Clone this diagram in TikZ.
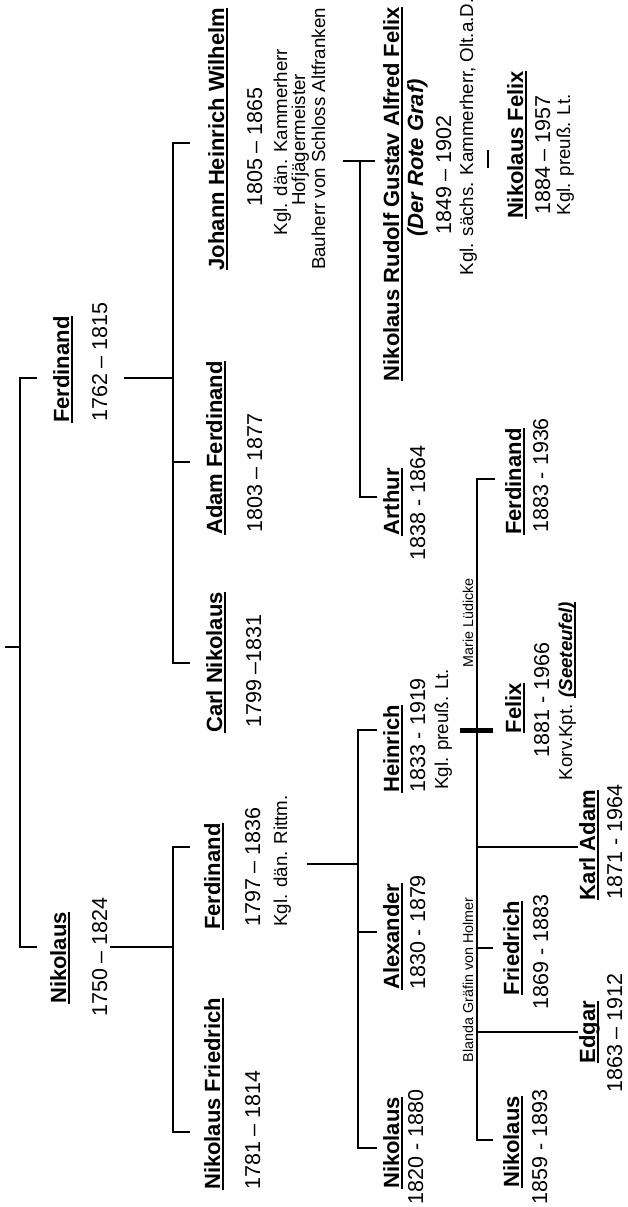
\documentclass[tikz,border=0pt]{standalone}
\usepackage{fontspec}
\setmainfont{Liberation Sans}
\newcommand\namefont{\fontsize{22}{24}\selectfont\bfseries}
\newcommand\datefont{\fontsize{21.5}{24}\selectfont}
\newcommand\notefont{\fontsize{18.7}{21}\selectfont}
\newcommand\smallfont{\fontsize{14.3}{16}\selectfont}
\newcommand\nmul[1]{\setbox0=\hbox{#1}\rlap{\rule[-4pt]{\wd0}{1.6pt}}\box0}
\tikzset{
  nm/.style={rotate=90, inner sep=0pt, font=\namefont, anchor=base},
  dt/.style={rotate=90, inner sep=0pt, font=\datefont, anchor=base},
  nt/.style={rotate=90, inner sep=0pt, font=\notefont, anchor=base},
  sm/.style={rotate=90, inner sep=0pt, font=\smallfont, anchor=base},
  ln/.style={line width=1.2pt},
  bar/.style={line width=5pt},
}
\begin{document}
\begin{tikzpicture}[x=1pt, y=-1pt]
\useasboundingbox (0,0) rectangle (627,1207);
% generation 1
\node[nm, anchor=base west] (f1762) at (69,423) {\nmul{Ferdinand}};
\node[dt, anchor=base west] (f1762d) at (107,422) {1762 – 1815};
\node[nm] (n1750) at (66,958) {\nmul{Nikolaus}};
\node[dt] (n1750d) at (107,957) {1750 – 1824};
% generation 2
\node[nm] (jhw) at (224,139) {\nmul{Johann Heinrich Wilhelm}};
\node[dt] (jhwd) at (262,147) {1805 – 1865};
\node[nt] (jhw1) at (287,142) {Kgl. dän. Kammerherr};
\node[nt] (jhw2) at (305,140) {Hofjägermeister};
\node[nt] (jhw3) at (325,139) {Bauherr von Schloss Altfranken};
\node[nm, anchor=base west] (af) at (222,535) {\nmul{Adam Ferdinand}};
\node[dt, anchor=base west] (afd) at (262,533) {1803 – 1877};
\node[nm, anchor=base west] (cn) at (222,733) {\nmul{Carl Nikolaus}};
\node[dt, anchor=base west] (cnd) at (261,728) {1799 –1831};
\node[nm, anchor=base west] (f1797) at (220,930) {\nmul{Ferdinand}};
\node[dt, anchor=base west] (f1797d) at (260,927) {1797 – 1836};
\node[nt, anchor=base west] (f1797n) at (287,927) {Kgl. dän. Rittm.};
\node[nm, anchor=base west] (nf) at (220,1190) {\nmul{Nikolaus Friedrich}};
\node[dt, anchor=base west] (nfd) at (260,1190) {1781 – 1814};
% generation 3
\node[nm] (nr) at (399,194) {\nmul{Nikolaus Rudolf Gustav Alfred Felix}};
\node[nm, font=\namefont\itshape] (nr1) at (423,158) {(Der Rote Graf)};
\node[dt] (nrd) at (451,175) {1849 – 1902};
\node[nt] (nr2) at (473,137) {Kgl. sächs. Kammerherr, Olt.a.D.};
\node[nm] (ar) at (399,502) {\nmul{Arthur}};
\node[dt] (ard) at (425,503) {1838 - 1864};
\node[nm, anchor=base west] (he) at (399,793) {\nmul{Heinrich}};
\node[dt, anchor=base west] (hed) at (425,793) {1833 - 1919};
\node[nt, anchor=base west] (hen) at (448,790) {Kgl. preuß. Lt.};
\node[nm, anchor=base west] (al) at (399,990) {\nmul{Alexander}};
\node[dt, anchor=base west] (ald) at (425,990) {1830 - 1879};
\node[nm] (n1820) at (399,1143) {\nmul{Nikolaus}};
\node[dt] (n1820d) at (423,1147) {1820 - 1880};
% spouses
\node[sm] (ml) at (473,623) {Marie Lüdicke};
\node[sm] (bg) at (473,980) {Blanda Gräfin von Holmer};
% generation 4
\node[nm] (nfx) at (523,145) {\nmul{Nikolaus Felix}};
\node[dt] (nfxd) at (550,155) {1884 – 1957};
\node[nt] (nfxn) at (570,155) {Kgl. preuß. Lt.};
\node[nm, anchor=base west] (f1883) at (521,535) {\nmul{Ferdinand}};
\node[dt, anchor=base west] (f1883d) at (548,533) {1883 - 1936};
\node[nm] (fe) at (521,708) {\nmul{Felix}};
\node[dt] (fed) at (549,700) {1881 - 1966};
\node[nt] (fen) at (572,691) {Korv.Kpt. {\bfseries\itshape\nmul{(Seeteufel)}}};
\node[nm] (fr) at (519,948) {\nmul{Friedrich}};
\node[dt] (frd) at (548,952) {1869 - 1883};
\node[nm] (n1859) at (519,1142) {\nmul{Nikolaus}};
\node[dt] (n1859d) at (547,1147) {1859 - 1893};
\node[nm] (ka) at (595,845) {\nmul{Karl Adam}};
\node[dt] (kad) at (622,842) {1871 - 1964};
\node[nm] (ed) at (595,1032) {\nmul{Edgar}};
\node[dt] (edd) at (622,1033) {1863 – 1912};
% connector coordinates
\coordinate (r-s) at (5,647);   \coordinate (r-m) at (20,647);
\coordinate (r-t) at (20,378);  \coordinate (r-t2) at (37,378);
\coordinate (r-b) at (20,947);  \coordinate (r-b2) at (37,947);
\coordinate (a-0) at (124,378); \coordinate (a-1) at (173,378);
\coordinate (a-t) at (173,143); \coordinate (a-t2) at (190,143);
\coordinate (a-m) at (173,462); \coordinate (a-m2) at (190,462);
\coordinate (a-b) at (173,663); \coordinate (a-b2) at (190,663);
\coordinate (b-0) at (110,947); \coordinate (b-1) at (173,947);
\coordinate (b-t) at (173,847); \coordinate (b-t2) at (190,847);
\coordinate (b-b) at (173,1132);\coordinate (b-b2) at (190,1132);
\coordinate (c-0) at (343,161); \coordinate (c-1) at (375,161);
\coordinate (c-t) at (360,161); \coordinate (c-b) at (360,497); \coordinate (c-b2) at (377,497);
\coordinate (d-0) at (307,864); \coordinate (d-1) at (358,864);
\coordinate (d-t) at (358,730); \coordinate (d-t2) at (377,730);
\coordinate (d-m) at (358,932); \coordinate (d-m2) at (377,932);
\coordinate (d-b) at (358,1148);\coordinate (d-b2) at (377,1148);
\coordinate (e-0) at (488,150); \coordinate (e-1) at (488,168);
\coordinate (h-0) at (460,730); \coordinate (h-1) at (493,730);
\coordinate (g-t) at (477,479); \coordinate (g-t2) at (495,479);
\coordinate (g-1) at (477,847); \coordinate (g-12) at (578,847);
\coordinate (g-2) at (477,948); \coordinate (g-22) at (493,948);
\coordinate (g-3) at (477,1032);\coordinate (g-32) at (578,1032);
\coordinate (g-b) at (477,1140);\coordinate (g-b2) at (493,1140);
% connectors
\draw[ln] (r-s) -- (r-m);
\draw[ln] (r-t2) -- (r-t) -- (r-b) -- (r-b2);
\draw[ln] (a-0) -- (a-1);
\draw[ln] (a-t2) -- (a-t) -- (a-b) -- (a-b2);
\draw[ln] (a-m) -- (a-m2);
\draw[ln] (b-0) -- (b-1);
\draw[ln] (b-t2) -- (b-t) -- (b-b) -- (b-b2);
\draw[ln] (c-0) -- (c-1);
\draw[ln] (c-t) -- (c-b) -- (c-b2);
\draw[ln] (d-0) -- (d-1);
\draw[ln] (d-t2) -- (d-t) -- (d-b) -- (d-b2);
\draw[ln] (d-m) -- (d-m2);
\draw[ln] (e-0) -- (e-1);
\draw[ln] (g-t2) -- (g-t) -- (g-b) -- (g-b2);
\draw[ln] (g-1) -- (g-12);
\draw[ln] (g-2) -- (g-22);
\draw[ln] (g-3) -- (g-32);
\draw[bar] (h-0) -- (h-1);
\end{tikzpicture}
\end{document}
